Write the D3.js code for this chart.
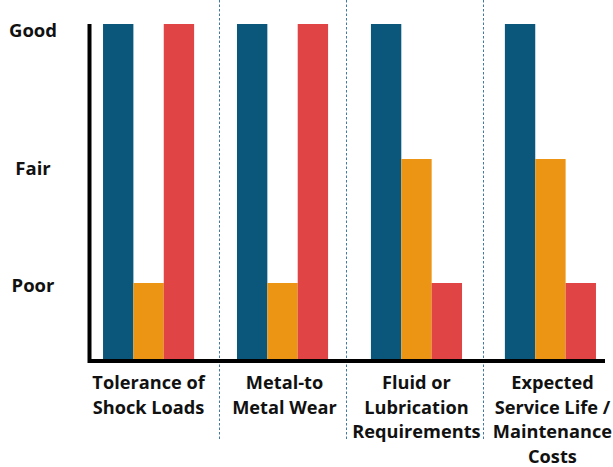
<!DOCTYPE html>
<html>
<head>
<meta charset="utf-8">
<script src="https://cdn.jsdelivr.net/npm/d3@7"></script>
<style>
  html, body { margin: 0; padding: 0; background: #fff; }
  svg { display: block; }
  text { font-family: "Open Sans", "Lato", sans-serif; font-weight: 700; fill: #111; }
</style>
</head>
<body>
<svg id="chart" width="613" height="467"></svg>
<script>
// Rating scale and its tick labels
const ratingLevels = ["Poor", "Fair", "Good"];
const ratingValue = { Poor: 1, Fair: 2, Good: 3 };

// Criteria compared (each label line drawn as its own row)
const categories = ["Tolerance of Shock Loads", "Metal-to Metal Wear",
                    "Fluid or Lubrication Requirements", "Expected Service Life / Maintenance Costs"];
const categoryLines = [
  ["Tolerance of", "Shock Loads"],
  ["Metal-to", "Metal Wear"],
  ["Fluid or", "Lubrication", "Requirements"],
  ["Expected", "Service Life /", "Maintenance", "Costs"]
];

// Ratings of the three options per criterion
const seriesNames = ["optionA", "optionB", "optionC"];
const optionA = ["Good", "Good", "Good", "Good"];
const optionB = ["Poor", "Poor", "Fair", "Fair"];
const optionC = ["Good", "Good", "Poor", "Poor"];
const seriesColors = ["#0b577b", "#ec9413", "#e14444"];

const seriesData = [optionA, optionB, optionC];

const svg = d3.select("#chart");

const plotLeft = 88, plotRight = 605, plotTop = 24, plotBottom = 359;

// Group positions
const x0 = d3.scaleBand()
  .domain(categories)
  .range([81.6, 617.4])
  .paddingInner(0.32)
  .paddingOuter(0.16);

const x1 = d3.scaleBand()
  .domain(seriesNames)
  .range([0, x0.bandwidth()])
  .padding(0);

// Rating scale: the distance between levels is not uniform
const y = d3.scaleLinear()
  .domain([0, 1, 2, 3])
  .range([plotBottom, 283, 159, plotTop]);

// Dashed dividers between groups (snapped to the pixel grid)
const dividers = categories.slice(1).map((c, i) =>
  Math.round((x0(categories[i]) + x0.bandwidth() + x0(c)) / 2 + [3.5, -4, 0][i]) + 0.5);
svg.append("g")
  .selectAll("line")
  .data(dividers)
  .join("line")
  .attr("x1", d => d).attr("x2", d => d)
  .attr("y1", 0).attr("y2", 441)
  .attr("stroke", "#3f7ba0")
  .attr("stroke-width", 1)
  .attr("stroke-dasharray", "2.5,2");

// Bars
const groups = svg.append("g")
  .selectAll("g")
  .data(categories)
  .join("g")
  .attr("transform", d => `translate(${x0(d)},0)`);

groups.selectAll("rect")
  .data((d, i) => seriesNames.map((s, k) => ({ s, k, rating: seriesData[k][i] })))
  .join("rect")
  .attr("x", d => x1(d.s))
  .attr("width", x1.bandwidth())
  .attr("y", d => y(ratingValue[d.rating]))
  .attr("height", d => y(0) - y(ratingValue[d.rating]))
  .attr("fill", d => seriesColors[d.k]);

// Axis lines
svg.append("line")
  .attr("x1", plotLeft + 1.5).attr("x2", plotLeft + 1.5)
  .attr("y1", plotTop).attr("y2", plotBottom + 4)
  .attr("stroke", "#000").attr("stroke-width", 4);
svg.append("line")
  .attr("x1", plotLeft).attr("x2", plotRight)
  .attr("y1", plotBottom + 2).attr("y2", plotBottom + 2)
  .attr("stroke", "#000").attr("stroke-width", 4);

// Rating labels
const labelShift = { Good: 5, Fair: 8, Poor: 1 };
svg.append("g")
  .selectAll("text")
  .data(ratingLevels)
  .join("text")
  .attr("x", 33)
  .attr("y", d => y(ratingValue[d]) + labelShift[d])
  .attr("text-anchor", "middle")
  .attr("dominant-baseline", "central")
  .attr("font-size", 18.5)
  .text(d => d);

// Category labels
const catLabels = svg.append("g")
  .selectAll("text")
  .data(categories)
  .join("text")
  .attr("text-anchor", "middle")
  .attr("font-size", 18.2)
  .attr("transform", (d, i) => `translate(${x0(d) + x0.bandwidth() / 2 + [0, 2, 0, 2][i]},389)`);

catLabels.selectAll("tspan")
  .data((d, i) => categoryLines[i])
  .join("tspan")
  .attr("x", 0)
  .attr("y", (d, j) => j * 24.5)
  .text(d => d);
</script>
</body>
</html>
